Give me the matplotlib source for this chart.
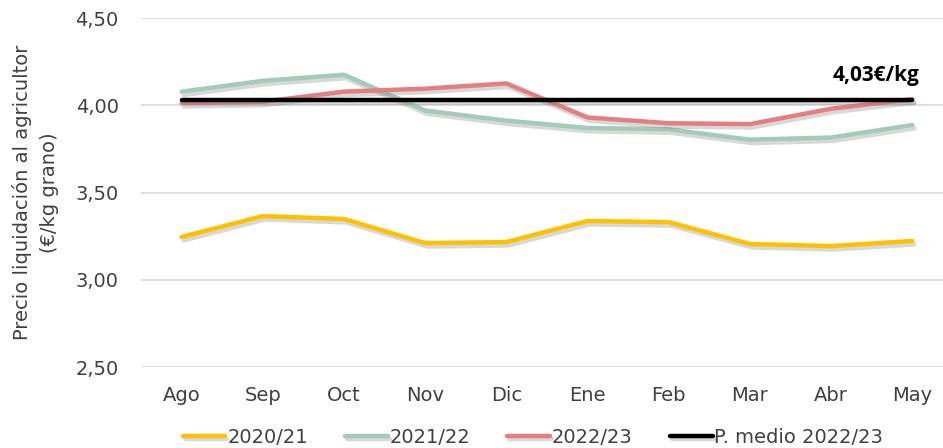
import matplotlib
matplotlib.use("Agg")
import matplotlib.pyplot as plt
import matplotlib.patheffects as pe

months = ["Ago", "Sep", "Oct", "Nov", "Dic", "Ene", "Feb", "Mar", "Abr", "May"]
s2020 = [3.245, 3.365, 3.348, 3.21, 3.216, 3.337, 3.33, 3.205, 3.193, 3.222]
s2021 = [4.078, 4.14, 4.175, 3.97, 3.912, 3.87, 3.862, 3.803, 3.815, 3.887]
s2022 = [4.013, 4.02, 4.078, 4.095, 4.125, 3.93, 3.897, 3.892, 3.98, 4.035]
p_medio = 4.03
yticks = [2.5, 3.0, 3.5, 4.0, 4.5]
ytick_labels = ["2,50", "3,00", "3,50", "4,00", "4,50"]

plt.rcParams['font.family'] = ['DejaVu Sans']

W, H = 943, 448
fig = plt.figure(figsize=(W / 100, H / 100), dpi=100)
left, right, bottom, top = 141, 953, 367, 18
ax = fig.add_axes([left / W, 1 - bottom / H, (right - left) / W, (bottom - top) / H])

x = list(range(len(months)))
shadow = [pe.SimpleLineShadow(offset=(1.5, -2.5), shadow_color='gray', alpha=0.3), pe.Normal()]
lw = 3.2
ax.plot(x, s2020, color='#FFC000', lw=lw, label='2020/21', path_effects=shadow, solid_capstyle='round', zorder=3)
ax.plot(x, s2021, color='#A3CCB8', lw=lw, label='2021/22', path_effects=shadow, solid_capstyle='round', zorder=3)
ax.plot(x, s2022, color='#E47E80', lw=lw, label='2022/23', path_effects=shadow, solid_capstyle='round', zorder=4)
ax.plot(x, [p_medio] * len(months), color='black', lw=lw, label='P. medio 2022/23',
        path_effects=shadow, solid_capstyle='round', zorder=5)

ax.text(x[-1] + 0.09, 4.17, "4,03€/kg", ha='right', va='center', fontsize=15,
        fontweight='bold', family=['Open Sans', 'DejaVu Sans'], color='black')

ax.set_xlim(-0.5, len(months) - 0.5)
ax.set_ylim(2.5, 4.5)
ax.set_yticks(yticks)
ax.set_yticklabels(ytick_labels)
ax.set_xticks(x)
ax.set_xticklabels(months)
ax.tick_params(axis='both', length=0, labelsize=14, colors='#404040')
ax.tick_params(axis='y', pad=16)
ax.tick_params(axis='x', pad=14)
ax.grid(axis='y', color='#D9D9D9', lw=1.2)
ax.set_axisbelow(True)
for s in ax.spines.values():
    s.set_visible(False)
ax.set_ylabel("Precio liquidación al agricultor\n(€/kg grano)", fontsize=14, color='#404040',
              labelpad=12, linespacing=1.55)

leg = fig.legend(loc='center', bbox_to_anchor=(533 / W, 1 - 437 / H), ncol=4, frameon=False,
                 fontsize=14, handlelength=2.2, handletextpad=0.1, columnspacing=1.9)
for t in leg.get_texts():
    t.set_color('#404040')

fig.savefig("out.png", dpi=100)
